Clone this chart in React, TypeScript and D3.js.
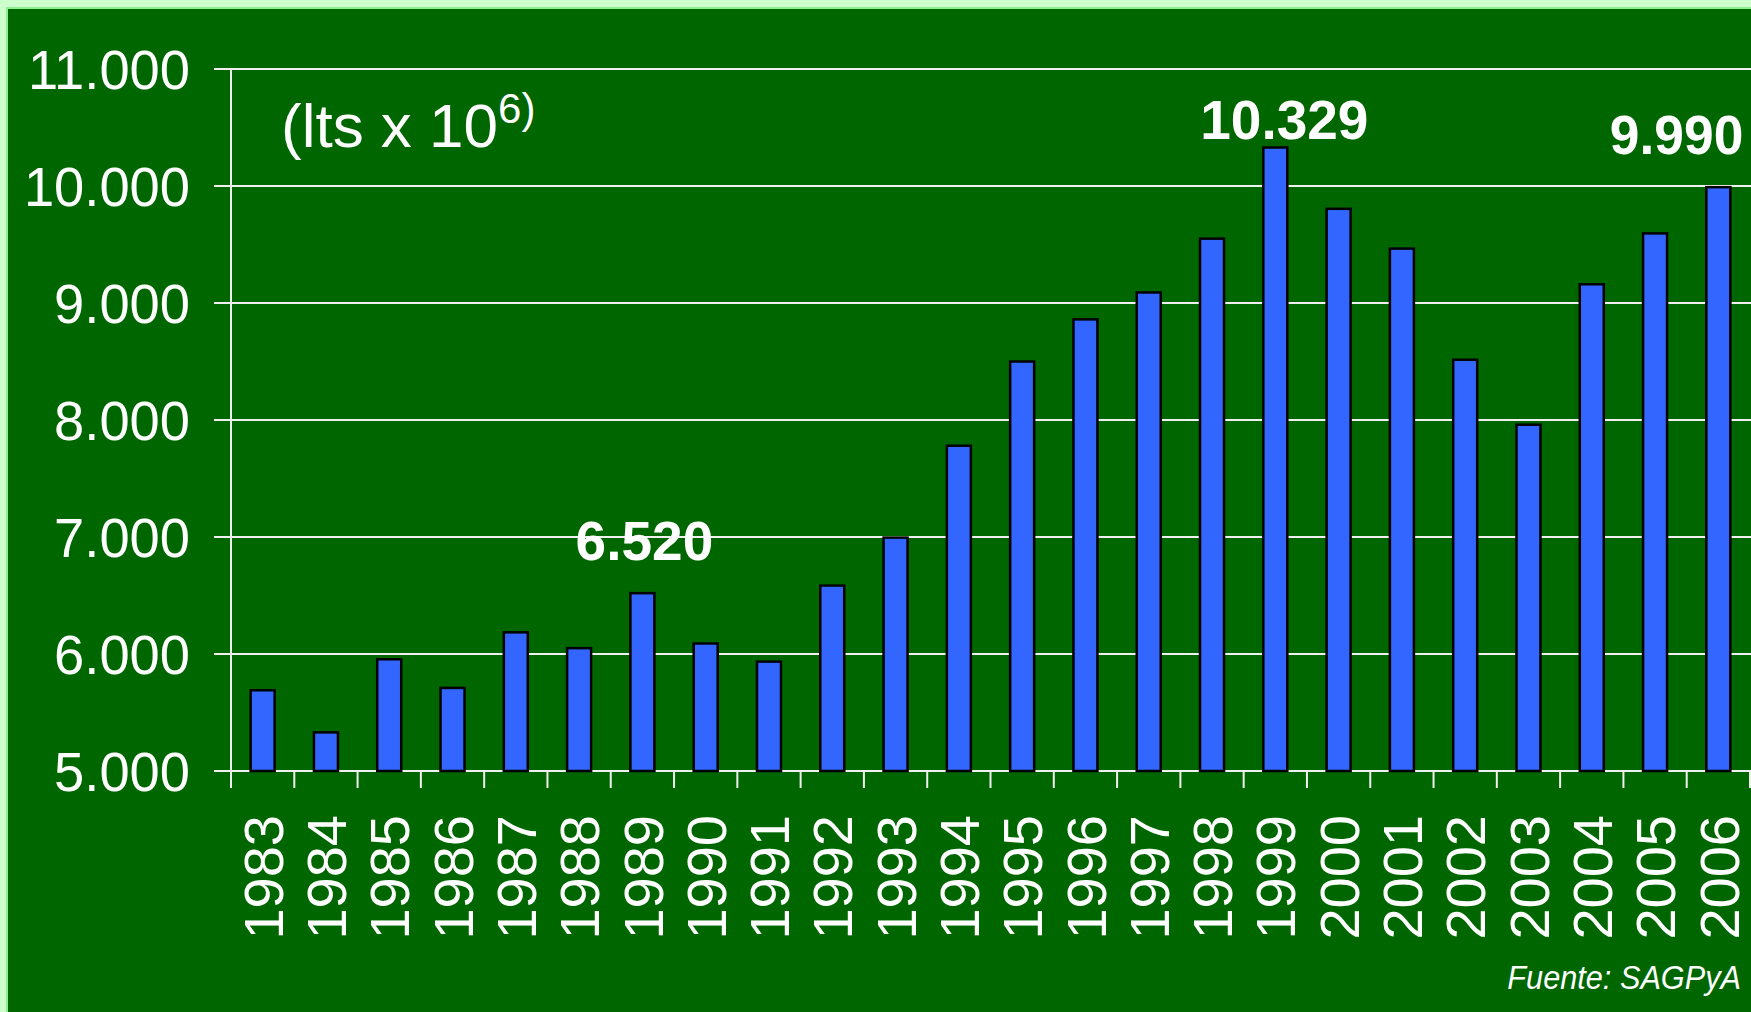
import React, { useRef, useEffect } from 'react';
import * as d3 from 'd3';

const years = [
  '1983', '1984', '1985', '1986', '1987', '1988', '1989', '1990', '1991', '1992', '1993', '1994',
  '1995', '1996', '1997', '1998', '1999', '2000', '2001', '2002', '2003', '2004', '2005', '2006',
];

// millones de litros
const production = [
  5690, 5330, 5955, 5710, 6185, 6050, 6520, 6090, 5935, 6585, 6995, 7780,
  8500, 8860, 9090, 9550, 10329, 9805, 9465, 8515, 7960, 9160, 9595, 9990,
];

const yTicks = [5000, 6000, 7000, 8000, 9000, 10000, 11000];

const highlightYears = ['1989', '1999', '2006'];

const unitLabel = '(lts x 10';
const unitSup = '6)';
const sourceLabel = 'Fuente: SAGPyA';

const W = 1751;
const H = 1012;
const FONT = '"Liberation Sans", Arial, Helvetica, sans-serif';

// label placement relative to bar top / band center
const highlightLayout: Record<string, { dx: number; dy: number; anchor: string; sx: number }> = {
  '1989': { dx: 2, dy: -33, anchor: 'middle', sx: 1 },
  '1999': { dx: 9, dy: -9, anchor: 'middle', sx: 1 },
  '2006': { dx: 25, dy: -33, anchor: 'end', sx: 0.97 },
};

const esAR = d3.formatLocale({ decimal: ',', thousands: '.', grouping: [3], currency: ['$', ''] });
const fmt = esAR.format(',d');

const App: React.FC = () => {
  const svgRef = useRef<SVGSVGElement | null>(null);

  useEffect(() => {
    if (!svgRef.current) return;
    document.body.style.margin = '0';

    const svg = d3.select(svgRef.current);
    svg.selectAll('*').remove();

    // background
    svg.append('rect').attr('width', W).attr('height', H).attr('fill', '#ccffcc');
    svg.append('rect')
      .attr('x', 7).attr('y', 8).attr('width', W).attr('height', H)
      .attr('fill', '#006600')
      .attr('stroke', '#8fef8f').attr('stroke-width', 2);

    const left = 231;
    const right = 1750;
    const top = 69;
    const bottom = 771;
    const tick = 17;
    const lineColor = '#f0f0f0';

    const x = d3.scaleBand().domain(years).range([left, right]).padding(0);
    const y = d3.scaleLinear().domain([5000, 11000]).range([bottom, top]);

    const chart = svg.append('g');

    // gridlines + y ticks
    chart.selectAll('.grid')
      .data(yTicks)
      .join('line')
      .attr('class', 'grid')
      .attr('x1', left - tick)
      .attr('x2', W)
      .attr('y1', d => y(d))
      .attr('y2', d => y(d))
      .attr('stroke', lineColor)
      .attr('stroke-width', 2);

    // y axis line
    chart.append('line')
      .attr('x1', left).attr('x2', left)
      .attr('y1', top).attr('y2', bottom + tick)
      .attr('stroke', lineColor).attr('stroke-width', 2);

    // x ticks at band boundaries
    const bounds = years.slice(1).map(d => x(d)!).concat([right]);
    chart.selectAll('.xtick')
      .data(bounds)
      .join('line')
      .attr('class', 'xtick')
      .attr('x1', d => d).attr('x2', d => d)
      .attr('y1', bottom).attr('y2', bottom + tick)
      .attr('stroke', lineColor).attr('stroke-width', 2);

    // y labels
    chart.selectAll('.ylab')
      .data(yTicks)
      .join('text')
      .attr('class', 'ylab')
      .attr('transform', d => `translate(190,${y(d)}) scale(0.97,1)`)
      .attr('dy', '0.36em')
      .attr('text-anchor', 'end')
      .attr('fill', '#fff')
      .style('font-family', FONT)
      .style('font-size', '56px')
      .text(d => fmt(d));

    // bars
    const barW = 24;
    chart.selectAll('.bar')
      .data(years.map((yr, i) => ({ yr, v: production[i] })))
      .join('rect')
      .attr('class', 'bar')
      .attr('x', d => x(d.yr)! + x.bandwidth() / 2 - barW / 2)
      .attr('y', d => y(d.v))
      .attr('width', barW)
      .attr('height', d => bottom - y(d.v))
      .attr('fill', '#3366ff')
      .attr('stroke', '#000')
      .attr('stroke-width', 2.5);

    // year labels
    chart.selectAll('.xlab')
      .data(years)
      .join('text')
      .attr('class', 'xlab')
      .attr('transform', d => `translate(${x(d)! + x.bandwidth() / 2},815) rotate(-90)`)
      .attr('dy', '0.36em')
      .attr('text-anchor', 'end')
      .attr('fill', '#fff')
      .style('font-family', FONT)
      .style('font-size', '56px')
      .text(d => d);

    // highlighted values
    chart.selectAll('.hl')
      .data(highlightYears)
      .join('text')
      .attr('class', 'hl')
      .attr('transform', d => {
        const v = production[years.indexOf(d)];
        const l = highlightLayout[d];
        return `translate(${x(d)! + x.bandwidth() / 2 + l.dx},${y(v) + l.dy}) scale(${l.sx},1)`;
      })
      .attr('text-anchor', d => highlightLayout[d].anchor)
      .attr('fill', '#fff')
      .style('font-family', FONT)
      .style('font-weight', 'bold')
      .style('font-size', '55px')
      .text(d => fmt(production[years.indexOf(d)]));

    // unit label
    const unit = chart.append('text')
      .attr('transform', 'translate(281,147)')
      .attr('fill', '#fff')
      .style('font-family', FONT)
      .style('font-size', '62px');
    unit.append('tspan').text(unitLabel);
    unit.append('tspan').attr('dy', -24).style('font-size', '42px').text(unitSup);

    // source
    chart.append('text')
      .attr('transform', 'translate(1741,989) scale(0.93,1)')
      .attr('text-anchor', 'end')
      .attr('fill', '#fff')
      .style('font-family', FONT)
      .style('font-style', 'italic')
      .style('font-size', '33px')
      .text(sourceLabel);
  }, []);

  return (
    <svg
      ref={svgRef}
      width={W}
      height={H}
      style={{ position: 'absolute', left: 0, top: 0, display: 'block' }}
    ></svg>
  );
};

export default App;
